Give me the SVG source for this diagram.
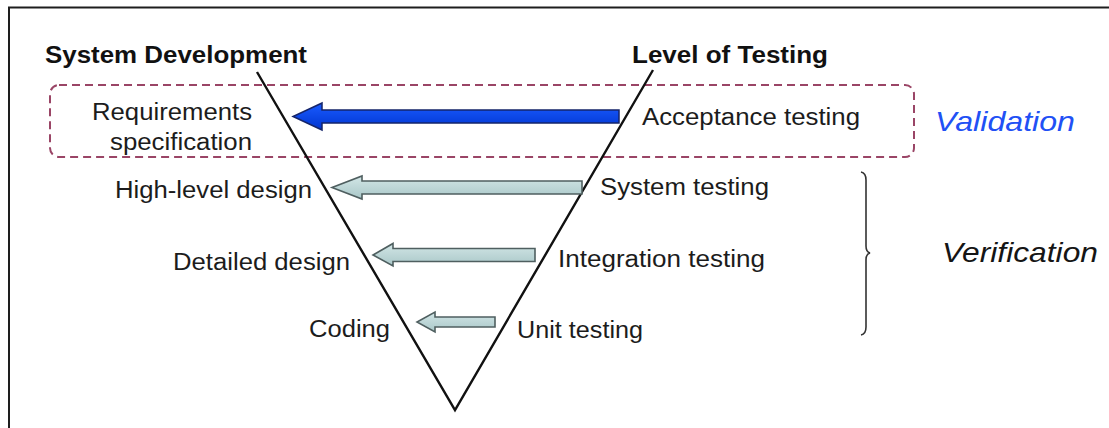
<svg xmlns="http://www.w3.org/2000/svg" width="1109" height="428" viewBox="0 0 1109 428">
  <defs>
    <linearGradient id="gradBlue" x1="0" y1="0" x2="0" y2="1">
      <stop offset="0" stop-color="#1a5cff"/>
      <stop offset="1" stop-color="#0034d0"/>
    </linearGradient>
    <linearGradient id="gradTeal" x1="0" y1="0" x2="0" y2="1">
      <stop offset="0" stop-color="#d2e6e6"/>
      <stop offset="1" stop-color="#a9c7c8"/>
    </linearGradient>
  </defs>
  <style>
    .lbl { font-family: "Liberation Sans", Arial, sans-serif; font-size: 23px; fill: #1c1c1c; }
    .head { font-family: "Liberation Sans", Arial, sans-serif; font-size: 23px; font-weight: bold; fill: #111; }
    .big { font-family: "Liberation Sans", Arial, sans-serif; font-size: 28px; font-style: italic; }
    .vline { stroke: #111; stroke-width: 2.4; fill: none; stroke-linejoin: miter; }
    .arrow-main { fill: url(#gradBlue); stroke: #15256a; stroke-width: 1.5; stroke-linejoin: miter; }
    .arrow-sub { fill: url(#gradTeal); stroke: #4f5f60; stroke-width: 1.6; stroke-linejoin: miter; }
    .zone { fill: none; stroke: #9a4566; stroke-width: 2; stroke-dasharray: 8 5; }
    .brace { fill: none; stroke: #333; stroke-width: 1.6; }
  </style>

  <rect width="1109" height="428" fill="#ffffff"/>

  <!-- outer frame: left and top edges -->
  <path d="M9,428 V7.5 H1109" fill="none" stroke="#1e1e1e" stroke-width="2"/>

  <!-- validation zone -->
  <rect class="zone" x="50" y="85" width="864" height="72" rx="9" ry="9"/>

  <!-- the V -->
  <g id="v-shape">
    <path class="vline" d="M257,72 L455,410 L653,70"/>
  </g>

  <!-- column headers -->
  <g id="hdr-development">
    <text class="head" x="45" y="63" textLength="262" lengthAdjust="spacingAndGlyphs">System Development</text>
  </g>
  <g id="hdr-testing">
    <text class="head" x="632" y="63" textLength="196" lengthAdjust="spacingAndGlyphs">Level of Testing</text>
  </g>

  <!-- development side -->
  <g id="requirements">
    <text class="lbl" x="92" y="120" textLength="160" lengthAdjust="spacingAndGlyphs">Requirements</text>
    <text class="lbl" x="110" y="150" textLength="142" lengthAdjust="spacingAndGlyphs">specification</text>
  </g>
  <g id="high-level-design">
    <text class="lbl" x="115" y="198" textLength="197" lengthAdjust="spacingAndGlyphs">High-level design</text>
  </g>
  <g id="detailed-design">
    <text class="lbl" x="173" y="270" textLength="177" lengthAdjust="spacingAndGlyphs">Detailed design</text>
  </g>
  <g id="coding">
    <text class="lbl" x="309" y="337" textLength="81" lengthAdjust="spacingAndGlyphs">Coding</text>
  </g>

  <!-- testing side -->
  <g id="acceptance-testing">
    <text class="lbl" x="642" y="125" textLength="218" lengthAdjust="spacingAndGlyphs">Acceptance testing</text>
  </g>
  <g id="system-testing">
    <text class="lbl" x="600" y="195" textLength="169" lengthAdjust="spacingAndGlyphs">System testing</text>
  </g>
  <g id="integration-testing">
    <text class="lbl" x="558" y="267" textLength="207" lengthAdjust="spacingAndGlyphs">Integration testing</text>
  </g>
  <g id="unit-testing">
    <text class="lbl" x="517" y="338" textLength="126" lengthAdjust="spacingAndGlyphs">Unit testing</text>
  </g>

  <!-- connectors: testing level back to development stage -->
  <g id="connectors">
    <path class="arrow-main" d="M619,110 L322,110 L322,103 L293,116.5 L322,130 L322,123 L619,123 Z"/>
    <path class="arrow-sub" d="M582,181 L362,181 L362,176 L332,187.5 L362,199 L362,194 L582,194 Z"/>
    <path class="arrow-sub" d="M535,248.5 L393,248.5 L393,243.5 L373,255 L393,266 L393,261.5 L535,261.5 Z"/>
    <path class="arrow-sub" d="M495,317 L435,317 L435,312 L417,322 L435,332 L435,327 L495,327 Z"/>
  </g>

  <!-- verification brace -->
  <g id="verification-brace">
    <path class="brace" d="M861,172 Q866,173 866,180 L866,246 Q866,252 870,253 Q866,254 866,260 L866,327 Q866,334 861,335"/>
  </g>

  <!-- category labels -->
  <g id="validation">
    <text class="big" x="935" y="131" fill="#2150f5" textLength="140" lengthAdjust="spacingAndGlyphs">Validation</text>
  </g>
  <g id="verification">
    <text class="big" x="942" y="262" fill="#151515" textLength="156" lengthAdjust="spacingAndGlyphs">Verification</text>
  </g>
</svg>
